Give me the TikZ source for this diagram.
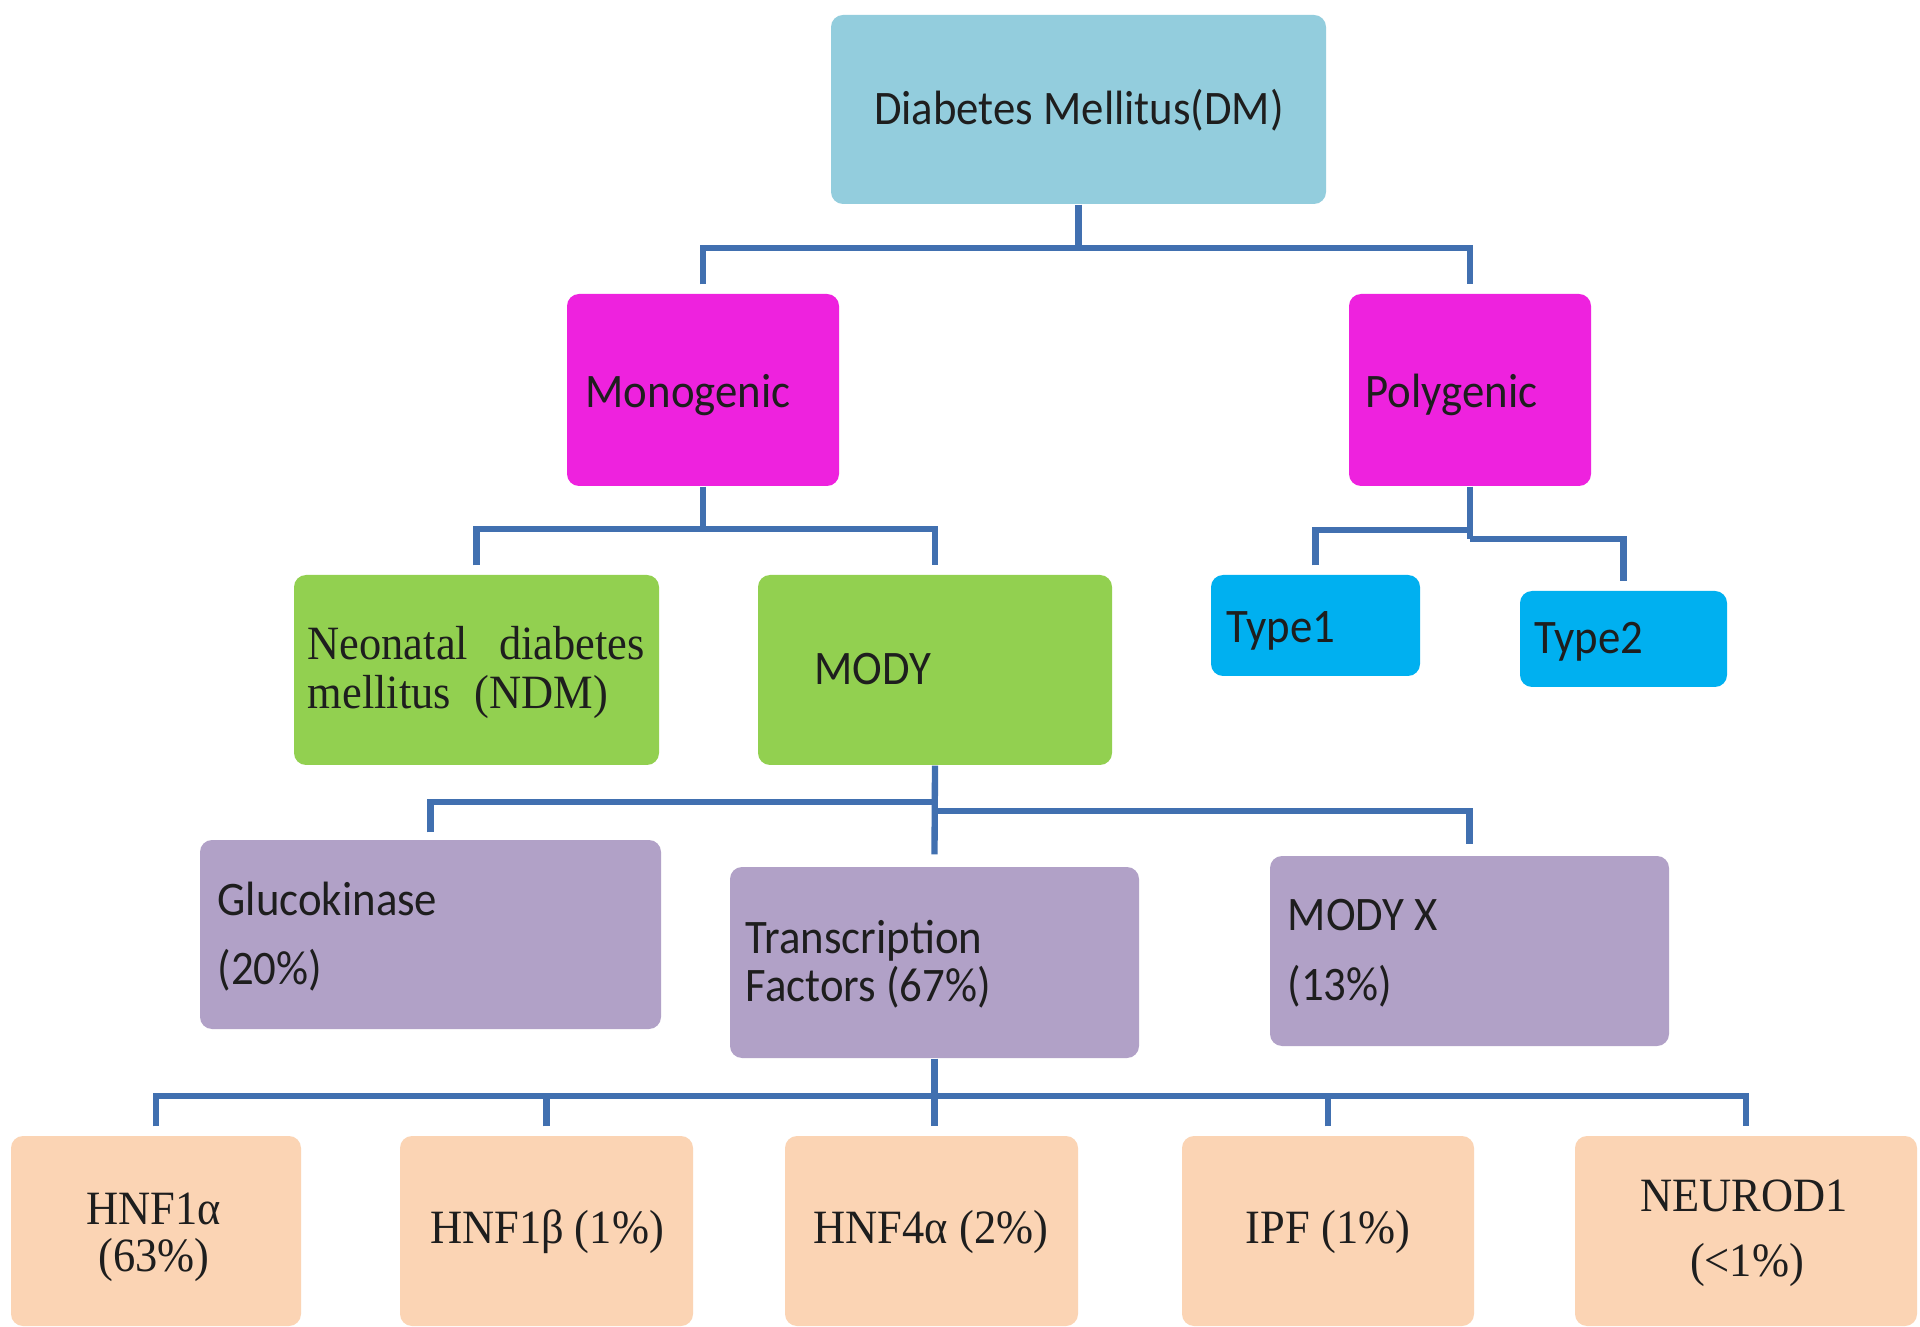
\documentclass[tikz,border=0pt]{standalone}
\usepackage{fontspec}
\usetikzlibrary{fit}
\newfontfamily\calfont[FakeStretch=0.93]{Carlito}
\newfontfamily\timesfont[FakeStretch=0.93]{Liberation Serif}
\definecolor{dmblue}{HTML}{93CDDD}
\definecolor{magent}{HTML}{EE22DE}
\definecolor{grn}{HTML}{92D050}
\definecolor{cyanb}{HTML}{00B0F0}
\definecolor{lav}{HTML}{B1A1C7}
\definecolor{peach}{HTML}{FBD4B4}
\definecolor{connc}{HTML}{4170B0}
\definecolor{txt}{HTML}{1E1E1E}
\begin{document}
\begin{tikzpicture}[x=0.1mm,y=-0.1mm,
  box/.style={draw=none, rounded corners=1.2mm, inner sep=0pt},
  conn/.style={draw=connc, line width=1.8pt},
  st/.style={font=\calfont\fontsize{13.7}{16}\selectfont, text=txt, inner sep=0pt},
  rt/.style={font=\timesfont\fontsize{13.6}{16}\selectfont, text=txt, inner sep=0pt}]
\useasboundingbox (0,0) rectangle (1920,1327);
\fill[white] (0,0) rectangle (1920,1327);
% boxes
\node[box, fill=dmblue, fit={(831,15) (1326,204)}] (dm) {};
\node[box, fill=magent, fit={(567,294) (839,486)}] (mono) {};
\node[box, fill=magent, fit={(1349,294) (1591,486)}] (poly) {};
\node[box, fill=grn, fit={(294,575) (659,765)}] (ndm) {};
\node[box, fill=grn, fit={(758,575) (1112,765)}] (mody) {};
\node[box, fill=cyanb, fit={(1211,575) (1420,676)}] (t1) {};
\node[box, fill=cyanb, fit={(1520,591) (1727,687)}] (t2) {};
\node[box, fill=lav, fit={(200,840) (661,1029)}] (gk) {};
\node[box, fill=lav, fit={(730,867) (1139,1058)}] (tf) {};
\node[box, fill=lav, fit={(1270,856) (1669,1046)}] (mx) {};
\node[box, fill=peach, fit={(11,1136) (301,1326)}] (h1a) {};
\node[box, fill=peach, fit={(400,1136) (693,1326)}] (h1b) {};
\node[box, fill=peach, fit={(785,1136) (1078,1326)}] (h4a) {};
\node[box, fill=peach, fit={(1182,1136) (1474,1326)}] (ipf) {};
\node[box, fill=peach, fit={(1575,1136) (1917,1326)}] (neu) {};
% texts
\node[st, anchor=mid] (dmt) at (1079,117) {Diabetes Mellitus(DM)};
\node[st, anchor=mid west] (monot) at (585,400) {Monogenic};
\node[st, anchor=mid west] (polyt) at (1365,400) {Polygenic};
\node[rt, anchor=mid west] (ndmt1) at (307,652) {\makebox[33.7mm][s]{Neonatal\hfill diabetes}};
\node[rt, anchor=mid west] (ndmt2) at (307,701) {mellitus\enspace(NDM)};
\node[st, anchor=mid west] (modyt) at (814,677) {MODY};
\node[st, anchor=mid west] (t1t) at (1226,635) {Type1};
\node[st, anchor=mid west] (t2t) at (1534,646) {Type2};
\node[st, anchor=mid west] (gkt1) at (217,908) {Glucokinase};
\node[st, anchor=mid west] (gkt2) at (217,977) {(20\%)};
\node[st, anchor=mid west] (tft1) at (745,946) {Transcription};
\node[st, anchor=mid west] (tft2) at (745,994) {Factors (67\%)};
\node[st, anchor=mid west] (mxt1) at (1287,923) {MODY X};
\node[st, anchor=mid west] (mxt2) at (1287,993) {(13\%)};
\node[rt, anchor=mid] (h1at1) at (154,1217) {HNF1α};
\node[rt, anchor=mid] (h1at2) at (154,1264) {(63\%)};
\node[rt, anchor=mid] (h1bt) at (547,1236) {HNF1β (1\%)};
\node[rt, anchor=mid] (h4at) at (931,1236) {HNF4α (2\%)};
\node[rt, anchor=mid] (ipft) at (1328,1236) {IPF (1\%)};
\node[rt, anchor=mid] (neut1) at (1744,1204) {NEUROD1};
\node[rt, anchor=mid] (neut2) at (1747,1269) {(<1\%)};
% connectors
\coordinate (j1) at (dm.south |- 0,248);
\draw[conn] (dm.south) -- (j1);
\draw[conn] ([yshift=0.9mm]mono.north) |- (j1) -| ([yshift=0.9mm]poly.north);
\coordinate (j2) at (mono.south |- 0,529);
\draw[conn] (mono.south) -- (j2);
\draw[conn] ([yshift=0.9mm]ndm.north) |- (j2) -| ([yshift=0.9mm]mody.north);
\coordinate (j3) at (poly.south |- 0,530);
\coordinate (j3b) at (poly.south |- 0,539);
\draw[conn] (poly.south) -- (j3b);
\draw[conn] ([yshift=0.9mm]t1.north) |- (j3);
\draw[conn] (j3b) -| ([yshift=0.9mm]t2.north);
\coordinate (j4) at (mody.south |- 0,802);
\coordinate (j4b) at (mody.south |- 0,811);
\draw[conn] (mody.south) -- ([yshift=1.2mm]tf.north);
\draw[conn] ([yshift=0.7mm]gk.north) |- (j4);
\draw[conn] (j4b) -| ([yshift=1.1mm]mx.north);
\coordinate (j5) at (tf.south |- 0,1096);
\draw[conn] (tf.south) -- ([yshift=0.9mm]tf.south |- h4a.north);
\draw[conn] ([yshift=0.9mm]h1a.north) |- (j5) -| ([yshift=0.9mm]neu.north);
\draw[conn] ([yshift=0.9mm]h1b.north) -- (h1b.north |- j5);
\draw[conn] ([yshift=0.9mm]ipf.north) -- (ipf.north |- j5);
\end{tikzpicture}
\end{document}
